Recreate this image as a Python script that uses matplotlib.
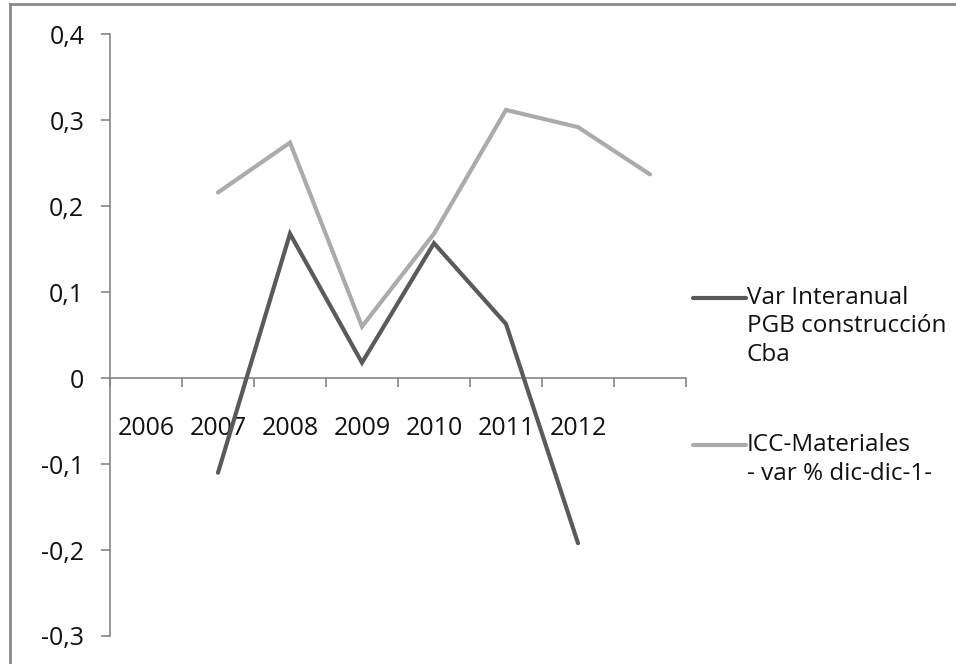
import matplotlib
matplotlib.use("Agg")
import matplotlib.pyplot as plt
from matplotlib.lines import Line2D
from matplotlib.ticker import FuncFormatter, FixedLocator

# ── Data ────────────────────────────────────────────────────────────────
years = ["2006", "2007", "2008", "2009", "2010", "2011", "2012", ""]
pgb_var = [None, -0.110, 0.168, 0.018, 0.157, 0.063, -0.192, None]
icc_mat = [None, 0.216, 0.274, 0.060, 0.168, 0.312, 0.292, 0.237]
series_labels = ["Var Interanual\nPGB construcción\nCba",
                 "ICC-Materiales\n- var % dic-dic-1-"]

DARK = "#5a5a5a"
LIGHT = "#ababab"
AXIS = "#868686"
FONT = "Open Sans"

W, H = 956, 664
fig = plt.figure(figsize=(W / 100, H / 100), dpi=100)
ax = fig.add_axes([110 / W, 1 - 636 / H, 576 / W, (636 - 34.3) / H])

x = [i + 0.5 for i in range(len(years))]


def pts(vals):
    xs = [xi for xi, v in zip(x, vals) if v is not None]
    ys = [v for v in vals if v is not None]
    return xs, ys


for vals, color in [(pgb_var, DARK), (icc_mat, LIGHT)]:
    xs, ys = pts(vals)
    ax.plot(xs, ys, color=color, lw=3.0, solid_capstyle="round",
            solid_joinstyle="miter", zorder=3)

ax.set_xlim(0, len(years))
ax.set_ylim(-0.3, 0.4)
ax.set_yticks([-0.3, -0.2, -0.1, 0, 0.1, 0.2, 0.3, 0.4])
ax.yaxis.set_major_formatter(FuncFormatter(
    lambda v, p: "0" if abs(v) < 1e-9 else f"{v:.1f}".replace(".", ",")))

# category axis crossing at zero, ticks between categories
ax.spines["bottom"].set_position(("data", 0))
for s in ["top", "right"]:
    ax.spines[s].set_visible(False)
for s in ["left", "bottom"]:
    ax.spines[s].set_color(AXIS)
    ax.spines[s].set_linewidth(1.2)

ax.xaxis.set_major_locator(FixedLocator(range(len(years) + 1)))
ax.xaxis.set_major_formatter(FuncFormatter(lambda v, p: ""))
ax.xaxis.set_minor_locator(FixedLocator(x))
ax.set_xticklabels(years, minor=True)
ax.tick_params(axis="x", which="major", direction="out", length=6.5,
               width=1.2, color=AXIS)
ax.tick_params(axis="x", which="minor", length=0, pad=27,
               labelsize=18, labelcolor="#111111")
ax.tick_params(axis="y", direction="out", length=6.5, width=1.2,
               color=AXIS, pad=12, labelsize=18, labelcolor="#111111")
for lab in ax.get_xticklabels(minor=True) + ax.get_yticklabels():
    lab.set_fontfamily(FONT)

# legend on the right
for (ly, label, color) in [(298, series_labels[0], DARK),
                           (445, series_labels[1], LIGHT)]:
    fig.add_artist(Line2D([693 / W, 746 / W], [1 - ly / H, 1 - ly / H],
                          color=color, lw=3.0, solid_capstyle="round"))
    fig.text(747 / W, 1 - (ly - 12) / H, label, fontsize=17.5,
             family=FONT, color="#111111", va="top", ha="left",
             linespacing=1.25)

# outer chart border (top and left visible)
fig.add_artist(Line2D([10 / W, 1], [1 - 4 / H, 1 - 4 / H], color="#8a8a8a", lw=2))
fig.add_artist(Line2D([10 / W, 10 / W], [0, 1 - 4 / H], color="#8a8a8a", lw=2))

fig.savefig("out.png", dpi=100)
